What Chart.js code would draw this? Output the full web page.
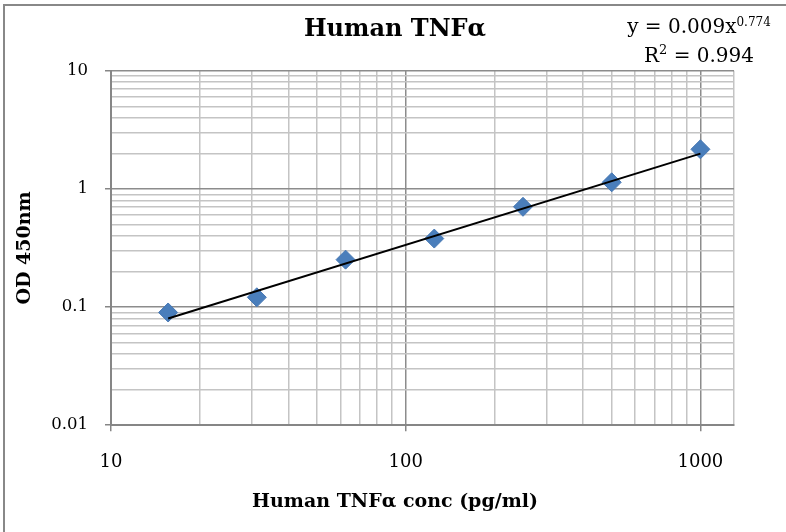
<!DOCTYPE html>
<html>
<head>
<meta charset="utf-8">
<script src="https://cdn.jsdelivr.net/npm/chart.js@4.4.1/dist/chart.umd.min.js"></script>
<style>
  body { margin: 0; background: #fff; }
  #wrap { position: relative; width: 786px; height: 532px; overflow: hidden; }
  #frame { position: absolute; left: 3px; top: 4px; width: 820px; height: 560px; border: 2px solid #888; }
  #eq { position: absolute; left: 600px; width: 198px; top: 12px; text-align: center;
        font: 20px 'DejaVu Serif'; line-height: 29px; color: #000; }
  #eq sup { line-height: 0; vertical-align: baseline; position: relative; }
  #eq .p { font-size: 12px; top: -7px; }
  #eq .s { font-size: 13px; top: -8px; }
</style>
</head>
<body>
<div id="wrap">
  <div id="frame"></div>
  <canvas id="grafica"></canvas>
  <div id="eq">y = 0.009x<sup class="p">0.774</sup><br>R<sup class="s">2</sup> = 0.994</div>
</div>
<script>
// concentracion (pg/ml) y densidad optica
const conc = [15.625, 31.25, 62.5, 125, 250, 500, 1000];
const od = [0.09, 0.121, 0.252, 0.38, 0.706, 1.138, 2.165];

// linea de tendencia (potencia): extremos
const trendConc = [15.625, 1000];
const trendOd = [0.08, 1.99];

// ejes
const xTickValues = [10, 100, 1000];
const xTickLabels = ["10", "100", "1000"];
const yTickValues = [0.01, 0.1, 1, 10];
const yTickLabels = ["0.01", "0.1", "1", "10"];
const xMin = 10, xMax = 1300;
const yMin = 0.01, yMax = 10;

function logTicks(decades, min, max) {
  const out = [];
  decades.forEach(d => {
    for (let k = 1; k <= 9; k++) {
      const v = +(d * k).toPrecision(6);
      if (v >= min && v <= max) out.push({ value: v });
    }
  });
  if (!out.some(t => t.value === max)) out.push({ value: max });
  return out;
}

function labelFrom(values, labels) {
  return v => {
    const i = values.findIndex(x => Math.abs(x - v) < 1e-9);
    return i >= 0 ? labels[i] : "";
  };
}

function isMajor(values, ctx) {
  return ctx.tick && values.some(x => Math.abs(x - ctx.tick.value) < 1e-9);
}

const puntos = conc.map((c, i) => ({ x: c, y: od[i] }));
const tendencia = trendConc.map((c, i) => ({ x: c, y: trendOd[i] }));

new Chart(document.getElementById("grafica"), {
  type: "scatter",
  data: {
    datasets: [
      {
        label: "Tendencia",
        data: tendencia,
        showLine: true,
        borderColor: "#000",
        borderWidth: 2,
        pointRadius: 0
      },
      {
        label: "Human TNFα",
        data: puntos,
        pointStyle: "rectRot",
        pointRadius: 9.5,
        pointBackgroundColor: "#4a7ebb",
        pointBorderColor: "#4677b3",
        pointBorderWidth: 1
      }
    ]
  },
  options: {
    responsive: true,
    maintainAspectRatio: false,
    animation: false,
    events: [],
    layout: { padding: { left: 4, right: 0, top: 0, bottom: 0 } },
    plugins: {
      legend: { display: false },
      tooltip: { enabled: false },
      title: {
        display: true,
        text: "Human TNFα",
        color: "#000",
        font: { family: "DejaVu Serif", size: 24, weight: "bold" },
        padding: { top: 15, bottom: 27 }
      },
      // titulo del eje X centrado en todo el grafico, como en Excel
      subtitle: {
        display: true,
        position: "bottom",
        text: "Human TNFα conc (pg/ml)",
        color: "#000",
        font: { family: "DejaVu Serif", size: 19, weight: "bold" },
        padding: { top: 0, bottom: 19 }
      }
    },
    scales: {
      x: {
        type: "logarithmic",
        min: xMin,
        max: xMax,
        afterBuildTicks: s => { s.ticks = logTicks(xTickValues, xMin, xMax); },
        afterFit: s => { s.height = 65; },
        border: { color: "#868686", width: 2 },
        grid: {
          color: ctx => isMajor(xTickValues, ctx) ? "#8c8c8c" : "#c4c4c4",
          lineWidth: 1.5,
          tickLength: 6,
          tickColor: ctx => isMajor(xTickValues, ctx) ? "#868686" : "rgba(0,0,0,0)"
        },
        ticks: {
          autoSkip: false,
          maxRotation: 0,
          padding: 20,
          color: "#000",
          font: { family: "DejaVu Serif", size: 18 },
          callback: labelFrom(xTickValues, xTickLabels)
        }
      },
      y: {
        type: "logarithmic",
        min: yMin,
        max: yMax,
        afterBuildTicks: s => { s.ticks = logTicks(yTickValues, yMin, yMax); },
        afterFit: s => { s.width = 107; },
        border: { color: "#868686", width: 2 },
        grid: {
          color: ctx => isMajor(yTickValues, ctx) ? "#8c8c8c" : "#c4c4c4",
          lineWidth: 1.5,
          tickLength: 6,
          tickColor: ctx => isMajor(yTickValues, ctx) ? "#868686" : "rgba(0,0,0,0)"
        },
        ticks: {
          autoSkip: false,
          padding: 17,
          color: "#000",
          font: { family: "DejaVu Serif", size: 16.5 },
          callback: labelFrom(yTickValues, yTickLabels)
        },
        title: {
          display: true,
          text: "OD 450nm",
          color: "#000",
          font: { family: "DejaVu Serif", size: 19, weight: "bold" },
          padding: { top: 10, bottom: 0 }
        }
      },
      // eje vacio a la derecha: solo reserva el margen derecho del area de trazado
      margen: {
        type: "linear",
        position: "right",
        display: true,
        grid: { display: false, drawTicks: false },
        border: { display: false },
        ticks: { display: false },
        afterFit: s => { s.width = 52; }
      }
    }
  }
});
</script>
</body>
</html>
